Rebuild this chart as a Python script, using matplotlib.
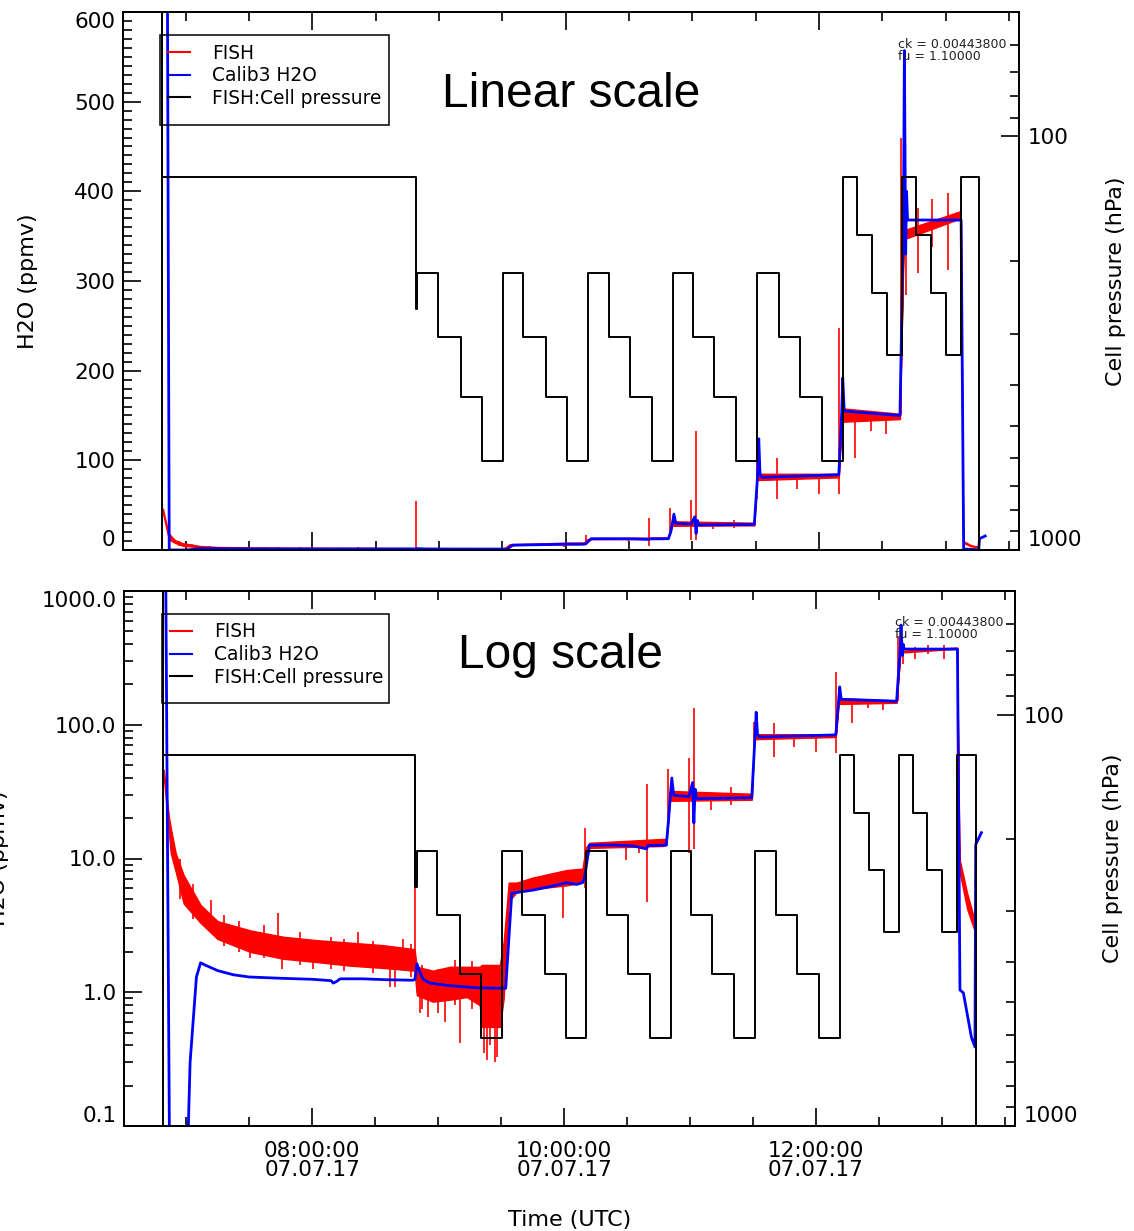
import matplotlib
matplotlib.use("Agg")
import numpy as np
import matplotlib.pyplot as plt
from matplotlib.lines import Line2D
from matplotlib.patches import Rectangle
from matplotlib.ticker import (MultipleLocator, FuncFormatter, LogLocator,
                               NullFormatter, FixedLocator)

plt.rcParams['font.family'] = ['DejaVu Sans']

# ---------------------------------------------------------------- data
# Cell pressure schedule (time in hours UTC, pressure in hPa), step changes
p_time = [6.795, 6.812, 6.816, 8.816, 8.830, 8.990, 9.172, 9.338,
          9.504, 9.663, 9.845, 10.011,
          10.177, 10.344, 10.510, 10.684,
          10.850, 11.009, 11.175, 11.349,
          11.515, 11.682, 11.848, 12.022,
          12.188, 12.300, 12.420, 12.540, 12.660, 12.770, 12.885, 13.000,
          13.120, 13.268, 13.300]
p_val = [1200, 30, 125, 262, 214, 306, 427, 610,
         214, 306, 427, 610,
         214, 306, 427, 610,
         214, 306, 427, 610,
         214, 306, 427, 610,
         125, 173, 239, 338, 125, 173, 239, 338,
         125, 1200, 1200]

# Calib3 H2O reference hygrometer (ppmv)
calib_time = [6.828, 6.836, 6.870, 6.995, 7.030, 7.080, 7.113, 7.160,
              7.250, 7.375, 7.500, 7.770, 8.000, 8.150, 8.166, 8.190,
              8.222, 8.400, 8.600, 8.800, 8.815, 8.831, 8.850, 8.880,
              8.934, 9.093, 9.300, 9.536, 9.584, 9.750, 9.900, 10.019,
              10.100, 10.146, 10.160, 10.201, 10.400, 10.550, 10.655, 10.665,
              10.811, 10.830, 10.845, 10.855, 10.870, 10.990, 11.020, 11.030,
              11.040, 11.050, 11.490, 11.515, 11.525, 11.535, 11.550, 12.157,
              12.180, 12.188, 12.200, 12.640, 12.668, 12.675, 12.685, 12.692,
              12.700, 13.123, 13.143, 13.170, 13.234, 13.262, 13.268, 13.313]
calib_val = [2000, 1500, 0.02, 0.02, 0.3, 1.3, 1.66, 1.58,
             1.45, 1.35, 1.30, 1.27, 1.25, 1.22, 1.17, 1.20,
             1.26, 1.26, 1.24, 1.23, 1.25, 1.63, 1.45, 1.25,
             1.17, 1.12, 1.08, 1.07, 5.5, 5.8, 6.2, 6.6,
             6.4, 6.6, 7.0, 12.6, 12.6, 12.4, 11.8, 12.5,
             12.6, 20, 31, 40, 29.7, 29, 37, 18.4,
             33, 28, 28.5, 81, 124, 85, 81, 84,
             153, 192, 155, 150, 368, 557, 330, 400,
             368, 368, 1.04, 0.99, 0.46, 0.39, 12.7, 15.6]

# FISH H2O (ppmv): lower / upper edge of the noisy signal band
fish_time = [6.820, 6.860, 6.876, 6.915, 6.979, 7.113, 7.248, 7.509, 7.770, 8.040,
             8.301, 8.562, 8.812, 8.830, 8.958, 9.093, 9.227, 9.330, 9.345, 9.489,
             9.520, 9.560, 9.623, 9.750, 10.019, 10.146, 10.170, 10.201, 10.779, 10.811,
             10.840, 11.490, 11.510, 12.157, 12.180, 12.640, 12.670, 12.700, 13.120, 13.139,
             13.200, 13.258]
fish_lo = [42, 16, 11, 8, 4.6, 3.3, 2.5, 2.0, 1.78, 1.68,
           1.58, 1.52, 1.45, 0.95, 0.85, 0.88, 0.92, 0.80, 0.55, 0.55,
           0.9, 4.8, 5.6, 5.9, 6.3, 6.6, 9, 12.0, 12.4, 12.6,
           27, 27.5, 78, 81, 143, 146, 348, 348, 370, 8,
           4.2, 2.9]
fish_hi = [46, 21, 17, 11, 7.5, 4.5, 3.4, 2.9, 2.6, 2.45,
           2.35, 2.25, 2.1, 1.55, 1.45, 1.55, 1.55, 1.55, 1.6, 1.6,
           2.4, 6.6, 6.6, 7.2, 8.2, 8.4, 12, 13.1, 14.0, 14.0,
           32, 30.5, 85, 85, 158, 152, 358, 358, 378, 10,
           5.5, 3.5]

# FISH single-sample excursions (time, min, max in ppmv)
spike_time = [6.950, 7.050, 7.192, 7.300, 7.420, 7.509, 7.620, 7.731, 7.762, 7.900,
              8.008, 8.150, 8.250, 8.364, 8.480, 8.618, 8.657, 8.720, 8.780, 8.816,
              8.855, 8.870, 8.920, 9.000, 9.050, 9.130, 9.172, 9.270, 9.360, 9.386,
              9.410, 9.449, 9.470, 9.987, 10.162, 10.494, 10.597, 10.660, 10.827, 10.993,
              11.032, 11.167, 11.326, 11.508, 11.666, 11.824, 11.998, 12.157, 12.283, 12.410,
              12.529, 12.648, 12.687, 12.782, 12.893, 13.020]
spike_lo = [5.0, 3.5, 3.0, 2.2, 2.0, 1.8, 1.8, 2.2, 1.5, 1.6,
            1.5, 1.5, 1.45, 1.7, 1.4, 1.1, 1.1, 1.6, 1.3, 1.5,
            0.7, 0.75, 0.65, 0.7, 0.6, 0.8, 0.42, 0.75, 0.35, 0.31,
            0.40, 0.30, 0.33, 3.6, 6.0, 9.8, 10.9, 4.7, 20, 11,
            11.7, 23, 25, 57, 57, 68, 63, 62, 103, 133,
            129, 150, 284, 309, 338, 312]
spike_hi = [10, 6.5, 4.9, 3.8, 3.4, 2.6, 3.2, 3.9, 2.2, 2.8,
            2.2, 2.6, 2.5, 2.8, 2.4, 1.8, 1.8, 2.5, 2.3, 55,
            1.5, 1.6, 1.5, 1.5, 1.4, 1.75, 1.2, 1.7, 1.6, 1.0,
            1.5, 1.0, 1.6, 7.0, 16.8, 13, 13, 36, 47, 56,
            133, 30, 34, 105, 103, 84, 84, 248, 150, 150,
            150, 460, 360, 381, 392, 398]

x_major_hours = [8, 10, 12]
date_label = "07.07.17"
legend_labels = ["FISH", "Calib3 H2O", "FISH:Cell pressure"]

# ---------------------------------------------------------------- layout
W, H = 1134, 1231
fig = plt.figure(figsize=(W / 100, H / 100), dpi=100)


def px_rect(left, top, right, bottom):
    return [left / W, 1 - bottom / H, (right - left) / W, (bottom - top) / H]


ax_lin = fig.add_axes(px_rect(123, 12, 1019, 550))
ax_log = fig.add_axes(px_rect(124, 591, 1015, 1126))

TICK_FS = 15.5
LABEL_FS = 16


def draw_panel(ax, log):
    ax.fill_between(fish_time, fish_lo, fish_hi, color='red',
                    edgecolor='red', linewidth=1.0, zorder=2)
    ax.vlines(spike_time, spike_lo, spike_hi, colors='red', linewidth=1.2, zorder=2)
    ax.plot(calib_time, calib_val, color='blue', linewidth=2.0, zorder=3)

    ax.set_xlim(6.505, 13.58)
    if log:
        ax.set_yscale('log')
        ax.set_ylim(0.1, 1000)
        ax.yaxis.set_major_locator(LogLocator(base=10, numticks=10))
        ax.yaxis.set_minor_locator(LogLocator(base=10, subs=np.arange(2, 10), numticks=40))
        ax.yaxis.set_major_formatter(FuncFormatter(lambda v, p: f"{v:.1f}"))
        ax.yaxis.set_minor_formatter(NullFormatter())
    else:
        ax.set_ylim(0, 600)
        ax.yaxis.set_major_locator(MultipleLocator(100))
        ax.yaxis.set_minor_locator(MultipleLocator(10))
        ax.yaxis.set_major_formatter(FuncFormatter(lambda v, p: f"{v:.0f}"))

    ax.xaxis.set_major_locator(FixedLocator(x_major_hours))
    ax.xaxis.set_minor_locator(MultipleLocator(0.5))
    ax.xaxis.set_major_formatter(
        FuncFormatter(lambda v, p: f"{int(round(v)):02d}:00:00\n{date_label}"))

    ax.tick_params(axis='both', which='major', direction='in', length=13,
                   width=1.2, labelsize=TICK_FS, color='black')
    ax.tick_params(axis='both', which='minor', direction='in', length=6.5, width=1.2)
    ax.tick_params(axis='x', which='both', top=True, bottom=True, pad=11)
    ax.tick_params(axis='y', which='both', left=True, right=False, pad=5.5)
    for s in ax.spines.values():
        s.set_linewidth(1.3)

    ax2 = ax.twinx()
    ax2.plot(p_time, p_val, color='black', linewidth=1.4, drawstyle='steps-post', zorder=4)
    ax2.set_yscale('log')
    ax2.set_ylim(1000, 50)
    ax2.yaxis.set_major_locator(FixedLocator([100, 1000]))
    ax2.yaxis.set_minor_locator(FixedLocator([60, 70, 80, 90, 200, 300, 400,
                                              500, 600, 700, 800, 900]))
    ax2.yaxis.set_major_formatter(FuncFormatter(lambda v, p: f"{v:.0f}"))
    ax2.yaxis.set_minor_formatter(NullFormatter())
    ax2.tick_params(axis='y', which='major', direction='in', length=13, width=1.2,
                    labelsize=TICK_FS, right=True, left=False, pad=6.5)
    ax2.tick_params(axis='y', which='minor', direction='in', length=6.5, width=1.2,
                    right=True, left=False)
    for s in ax2.spines.values():
        s.set_linewidth(1.3)

    ax.set_ylabel("H2O (ppmv)", fontsize=LABEL_FS)
    ax2.set_ylabel("Cell pressure (hPa)", fontsize=LABEL_FS)

    handles = [Line2D([], [], color='red', linewidth=1.5),
               Line2D([], [], color='blue', linewidth=1.5),
               Line2D([], [], color='black', linewidth=1.5)]
    return ax2, handles


ax2_lin, handles = draw_panel(ax_lin, log=False)
ax2_log, _ = draw_panel(ax_log, log=True)

ax_lin.tick_params(axis='x', labelbottom=False)

# axis label placement
ax_lin.yaxis.set_label_coords((38 - 123) / 896, 0.5)
ax_log.yaxis.set_label_coords((9 - 124) / 891, 0.5)
ax2_lin.yaxis.set_label_coords((1106 - 123) / 896, 0.5)
ax2_log.yaxis.set_label_coords((1103 - 124) / 891, 0.5)
ax_log.set_xlabel("Time (UTC)", fontsize=LABEL_FS, labelpad=21)

# legends (entries from the legend machinery, box drawn as a plain rectangle)
for ax2, ax_w, left_px, box in ((ax2_lin, 896, 160 - 123, (160, 35, 389, 125)),
                                (ax2_log, 891, 162 - 124, (162, 614, 389, 703))):
    ax2.legend(handles, legend_labels, loc='upper left',
               bbox_to_anchor=(left_px / ax_w, 0.957), borderaxespad=0,
               fontsize=13.4, handlelength=1.15, handletextpad=1.2,
               labelspacing=0.2, borderpad=0.45, frameon=False)
    l, t, r, b = box
    fig.patches.append(Rectangle((l / W, 1 - b / H), (r - l) / W, (b - t) / H,
                                 transform=fig.transFigure, fill=False,
                                 edgecolor='black', linewidth=1.1, zorder=10))

# panel titles
fig.text(571 / W, 1 - 107 / H, "Linear scale", fontsize=34.5,
         family='Liberation Sans', ha='center', va='baseline')
fig.text(560 / W, 1 - 668 / H, "Log scale", fontsize=34.5,
         family='Liberation Sans', ha='center', va='baseline')

# calibration constants
for x0, y0 in ((898, 44), (895, 623)):
    fig.text(x0 / W, 1 - y0 / H, "ck = 0.00443800", fontsize=9,
             ha='left', va='center', color='#222222')
    fig.text(x0 / W, 1 - (y0 + 12) / H, "fu = 1.10000", fontsize=9,
             ha='left', va='center', color='#222222')

# keep the end labels of each vertical axis inside the frame
fig.canvas.draw()
for a in (ax_lin, ax_log, ax2_lin, ax2_log):
    bottom_val, top_val = a.get_ylim()
    for t in a.yaxis.get_major_ticks():
        loc = t.get_loc()
        if np.isclose(loc, top_val):
            t.label1.set_verticalalignment('top')
            t.label2.set_verticalalignment('top')
        elif np.isclose(loc, bottom_val):
            t.label1.set_verticalalignment('bottom')
            t.label2.set_verticalalignment('bottom')

for lbl in ax_log.get_xticklabels():
    lbl.set_linespacing(0.95)

fig.savefig("out.png", dpi=100)
